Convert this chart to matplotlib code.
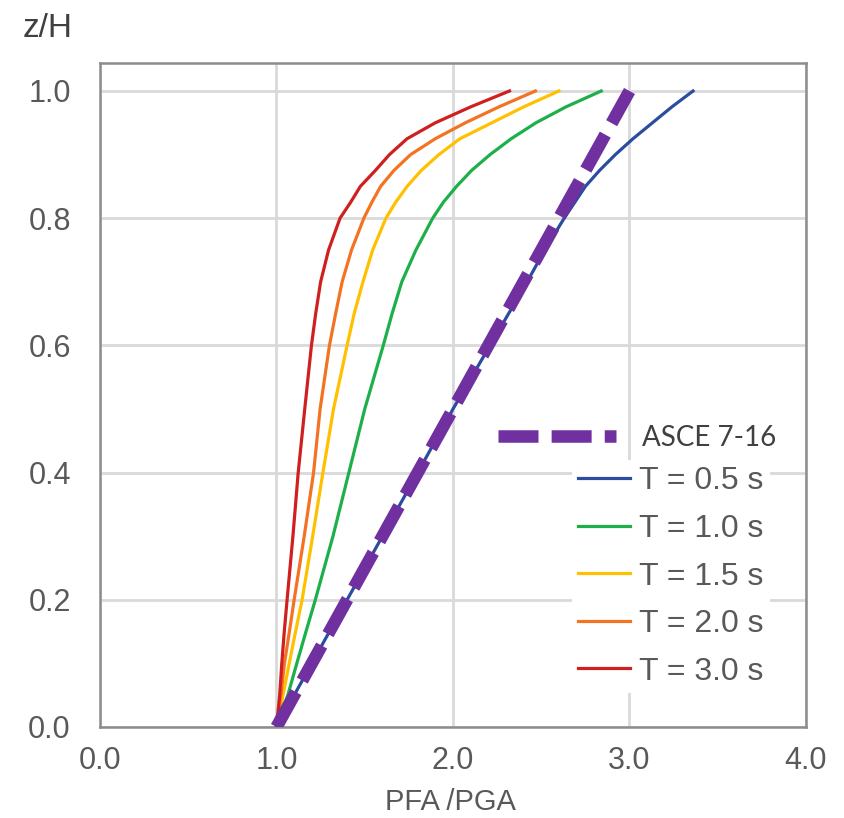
import matplotlib
matplotlib.use("Agg")
import matplotlib.pyplot as plt

# height ratio z/H shared by all response curves
z_h = [0.0, 0.05, 0.1, 0.15, 0.2, 0.3, 0.4, 0.5, 0.6, 0.65, 0.7, 0.75, 0.8,
       0.825, 0.85, 0.875, 0.9, 0.925, 0.95, 0.975, 1.0]

# PFA/PGA
pfa_t05 = [1.0, 1.10, 1.20, 1.30, 1.40, 1.60, 1.80, 2.00, 2.21, 2.315, 2.42, 2.52, 2.63,
           2.69, 2.75, 2.83, 2.92, 3.02, 3.13, 3.24, 3.36]
pfa_t10 = [1.0, 1.064, 1.115, 1.167, 1.22, 1.32, 1.41, 1.50, 1.605, 1.655, 1.71, 1.79, 1.885,
           1.945, 2.02, 2.105, 2.21, 2.33, 2.47, 2.64, 2.84]
pfa_t15 = [1.0, 1.037, 1.072, 1.108, 1.145, 1.205, 1.263, 1.323, 1.40, 1.44, 1.49, 1.545, 1.62,
           1.675, 1.74, 1.82, 1.92, 2.04, 2.22, 2.40, 2.60]
pfa_t20 = [1.0, 1.025, 1.045, 1.073, 1.10, 1.157, 1.21, 1.247, 1.30, 1.335, 1.372, 1.425, 1.495,
           1.54, 1.59, 1.665, 1.76, 1.90, 2.07, 2.26, 2.467]
pfa_t30 = [1.0, 1.018, 1.03, 1.044, 1.06, 1.093, 1.123, 1.16, 1.198, 1.222, 1.25, 1.295, 1.36,
           1.42, 1.475, 1.56, 1.64, 1.74, 1.90, 2.10, 2.32]

# ASCE 7-16 code line
asce_z = [0.0, 1.0]
asce_pfa = [1.0, 3.0]

labels = ["T = 0.5 s", "T = 1.0 s", "T = 1.5 s", "T = 2.0 s", "T = 3.0 s"]
colors = ["#2B4C9F", "#1DAF4A", "#FFC000", "#F47323", "#CF1F1F"]
series = [pfa_t05, pfa_t10, pfa_t15, pfa_t20, pfa_t30]

W, H = 845, 818
fig = plt.figure(figsize=(W / 100, H / 100), dpi=100)
ax = fig.add_axes([100 / W, 1 - 727 / H, 706 / W, 664 / H])

lines = []
for vals, c, lab in zip(series, colors, labels):
    ln, = ax.plot(vals, z_h, color=c, lw=2.3, label=lab, zorder=3)
    lines.append(ln)

asce, = ax.plot(asce_pfa, asce_z, color="#7030A0", lw=9, dashes=(3.2, 1.05),
                solid_capstyle="butt", dash_capstyle="butt", label="ASCE 7-16", zorder=4)

ax.set_xlim(0, 4)
ax.set_ylim(0, 1.044)
ax.set_xticks([0, 1, 2, 3, 4])
ax.set_yticks([0, 0.2, 0.4, 0.6, 0.8, 1.0])
ax.set_xticklabels(["0.0", "1.0", "2.0", "3.0", "4.0"], family="Liberation Sans", fontsize=22, color="#595959")
ax.set_yticklabels(["0.0", "0.2", "0.4", "0.6", "0.8", "1.0"], family="Liberation Sans", fontsize=22, color="#595959")
ax.tick_params(axis="both", length=0)
ax.tick_params(axis="x", pad=14)
ax.tick_params(axis="y", pad=21)
ax.grid(True, color="#D9D9D9", lw=2)
ax.set_axisbelow(True)
for s in ax.spines.values():
    s.set_color("#8C8C8C")
    s.set_linewidth(1.8)

fig.text(23 / W, 1 - 37 / H, "z/H", family="Liberation Sans", fontsize=24, color="#404040", va="baseline")
fig.text(450 / W, 1 - 810 / H, "PFA /PGA", family="Liberation Sans", fontsize=21, color="#595959",
         ha="center", va="baseline")

leg1 = ax.legend(handles=[asce], loc="center left", bbox_to_anchor=(498 / W, 1 - 438 / H),
                 bbox_transform=fig.transFigure, frameon=False, borderpad=0, borderaxespad=0,
                 handlelength=4.25, handletextpad=0.95, prop={"family": "Lato", "size": 20})
for t in leg1.get_texts():
    t.set_color("#404040")
ax.add_artist(leg1)

leg2 = ax.legend(handles=lines, loc="upper left", bbox_to_anchor=(572 / W, 1 - 460 / H),
                 bbox_transform=fig.transFigure, frameon=True, facecolor="white", edgecolor="none",
                 framealpha=1, fancybox=False, borderpad=0.2, borderaxespad=0,
                 handlelength=1.6, handletextpad=0.3, labelspacing=0.55,
                 prop={"family": "Liberation Sans", "size": 23})
for t in leg2.get_texts():
    t.set_color("#595959")

fig.savefig("out.png", dpi=100)
